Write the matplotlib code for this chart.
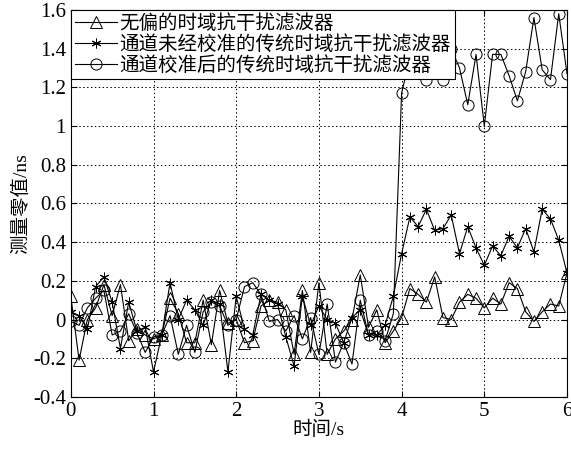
import numpy as np
import matplotlib
matplotlib.use("Agg")
import matplotlib.pyplot as plt
from matplotlib.ticker import FuncFormatter

plt.rcParams['font.family'] = ['Liberation Serif', 'Noto Sans CJK SC']

t = np.round(np.arange(0, 6.01, 0.1), 1)

# 无偏的时域抗干扰滤波器
wupian = [0.12, -0.21, 0.00, 0.06, 0.18, 0.02, 0.18, -0.11, -0.05, -0.08,
          -0.10, -0.08, 0.11, 0.03, -0.12, -0.12, 0.10, -0.13, 0.15, -0.02,
          0.00, -0.12, -0.11, 0.07, 0.10, 0.09, 0.05, -0.18, 0.15, -0.17,
          0.19, -0.18, -0.10, -0.06, 0.00, 0.23, -0.04, 0.05, -0.12, -0.06,
          0.01, 0.16, 0.13, 0.09, 0.22, 0.01, 0.00, 0.09, 0.13, 0.11,
          0.06, 0.11, 0.08, 0.19, 0.16, 0.04, -0.01, 0.04, 0.08, 0.07,
          0.24]

# 通道未经校准的传统时域抗干扰滤波器
weijiaozhun = [0.04, 0.02, -0.05, 0.17, 0.22, 0.09, -0.15, 0.09, -0.06, -0.04,
               -0.27, -0.08, 0.19, 0.00, 0.10, 0.05, -0.03, 0.10, 0.08, -0.27,
               0.12, -0.05, -0.08, 0.13, 0.10, 0.08, -0.09, -0.24, 0.12, -0.03,
               0.07, 0.00, -0.02, -0.12, 0.01, 0.05, -0.08, -0.08, -0.03, 0.12,
               0.34, 0.53, 0.48, 0.57, 0.46, 0.47, 0.54, 0.34, 0.48, 0.37,
               0.28, 0.38, 0.33, 0.43, 0.37, 0.47, 0.35, 0.57, 0.52, 0.41,
               0.24]

# 通道校准后的传统时域抗干扰滤波器
jiaozhunhou = [-0.01, -0.03, 0.06, 0.11, 0.15, -0.08, -0.06, 0.03, -0.07, -0.17,
               -0.09, -0.08, 0.02, -0.18, -0.03, -0.17, 0.04, 0.09, 0.07, -0.03,
               0.00, 0.17, 0.19, 0.13, -0.01, 0.00, -0.06, 0.02, -0.10, 0.01,
               -0.18, 0.08, -0.22, -0.12, -0.23, 0.10, -0.08, -0.06, -0.11, 0.03,
               1.17, 1.35, 1.32, 1.24, 1.30, 1.24, 1.40, 1.30, 1.11, 1.37,
               1.00, 1.37, 1.37, 1.26, 1.13, 1.28, 1.56, 1.29, 1.24, 1.58,
               1.27]

labels = ['无偏的时域抗干扰滤波器', '通道未经校准的传统时域抗干扰滤波器', '通道校准后的传统时域抗干扰滤波器']

fig = plt.figure(figsize=(5.71, 4.49), dpi=100)
ax = fig.add_axes([0.124, 0.116, 0.869, 0.862])

ax.plot(t, wupian, color='k', lw=0.8, marker='^', ms=9, mfc='none', mec='k', mew=0.7, label=labels[0])
ax.plot(t, weijiaozhun, color='k', lw=0.8, marker=(6, 2, 0), ms=7, mec='k', mew=0.7, label=labels[1])
ax.plot(t, jiaozhunhou, color='k', lw=0.8, marker='o', ms=8, mfc='none', mec='k', mew=0.7, label=labels[2])

ax.set_xlim(0, 6)
ax.set_ylim(-0.4, 1.6)
ax.set_xticks(range(0, 7))
ax.set_yticks(np.round(np.arange(-0.4, 1.61, 0.2), 1))
ax.yaxis.set_major_formatter(FuncFormatter(lambda v, p: '%g' % round(v, 1)))
ax.tick_params(direction='in', labelsize=15, length=4, top=True, right=True)
ax.grid(True, ls=(0, (1.5, 2.5)), color='k', lw=0.7)
for s in ax.spines.values():
    s.set_linewidth(0.8)

ax.set_xlabel('时间/s', fontsize=14, labelpad=0)
ax.set_ylabel('测量零值/ns', fontsize=14, labelpad=2)

leg = ax.legend(loc='upper left', fontsize=14, frameon=True, fancybox=False,
                edgecolor='k', framealpha=1, borderaxespad=0, borderpad=0.2,
                handlelength=2.2, handletextpad=0.1, labelspacing=0.12)
leg.get_frame().set_linewidth(0.8)

fig.savefig('out.png', dpi=100)
